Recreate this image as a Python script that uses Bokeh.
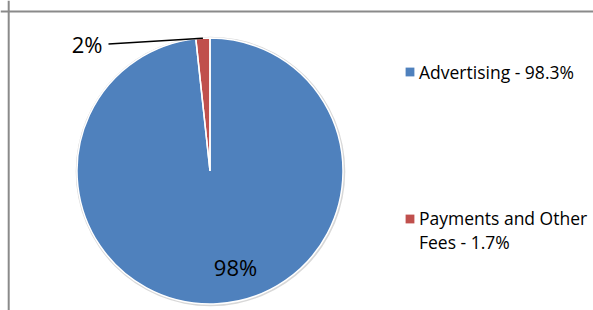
import math
from bokeh.plotting import figure
from bokeh.models import Range1d, ColumnDataSource, Legend, LegendItem, Span
from bokeh.core.properties import value
from bokeh.embed import file_html
from bokeh.resources import INLINE

# ---- data ----
categories = ["Advertising", "Payments and Other Fees"]
shares = [98.3, 1.7]
colors = ["#4F81BD", "#C0504D"]

FONT = "Open Sans"
W, H = 593, 310
cx, cy, R = 209.5, 139.5, 133.0

total = sum(shares)
starts, ends, mids = [], [], []
cum = 0.0
for s in shares:
    a0 = math.pi / 2 - 2 * math.pi * cum / total
    cum += s
    a1 = math.pi / 2 - 2 * math.pi * cum / total
    starts.append(a0)
    ends.append(a1)
    mids.append((a0 + a1) / 2)

src = ColumnDataSource(dict(
    x=[cx] * len(shares), y=[cy] * len(shares),
    start=starts, end=ends, color=colors,
))

p = figure(width=W, height=H, output_backend="svg", toolbar_location=None,
           x_range=Range1d(0, W), y_range=Range1d(0, H),
           x_axis_type=None, y_axis_type=None, min_border=0)
p.outline_line_color = None
p.background_fill_color = "white"
p.border_fill_color = "white"

# chart frame (left and top edges visible)
p.add_layout(Span(location=8.2, dimension="height", line_color="#8a8a8a", line_width=2))
p.add_layout(Span(location=H - 11, dimension="width", line_color="#8a8a8a", line_width=2))

# soft shadow
p.circle(x=[cx + 0.5], y=[cy - 0.5], radius=R + 1.8, fill_color="#c8c8c8",
         fill_alpha=0.7, line_color=None)

# pie slices (fill)
r_fill = p.wedge(x="x", y="y", radius=R, start_angle="start", end_angle="end",
                 direction="clock", fill_color="color", line_color=None, source=src)
# white borders
p.wedge(x="x", y="y", radius=R, start_angle="start", end_angle="end",
        direction="clock", fill_alpha=0, line_color="white", line_width=1.5, source=src)
# invisible renderer used for the wrapped second legend line
r_none = p.wedge(x="x", y="y", radius=R, start_angle="start", end_angle="end",
                 direction="clock", fill_alpha=0, line_alpha=0, source=src)

# data labels
lbl_small = f"{round(shares[1])}%"
lbl_big = f"{round(shares[0])}%"
ex, ey = cx + R * math.cos(mids[1]), cy + R * math.sin(mids[1])
lx, ly = cx - 101.5, cy + 127.0
p.line(x=[lx, ex], y=[ly, ey], line_color="black", line_width=1.5)
p.text(x=[lx - 6], y=[ly + 0.3], text=[lbl_small], text_align="right",
       text_baseline="alphabetic", text_font=value(FONT), text_font_size="22px",
       text_color="black")
p.text(x=[cx + 25.5], y=[cy - 96.2], text=[lbl_big], text_align="center",
       text_baseline="alphabetic", text_font=value(FONT), text_font_size="22px",
       text_color="black")

# legend
common = dict(orientation="vertical", padding=0, margin=0, spacing=0,
              border_line_color=None, background_fill_alpha=0,
              glyph_width=11, glyph_height=11, label_standoff=4,
              label_text_font=FONT, label_text_font_size="17.5px",
              label_text_color="black")
leg_a = Legend(items=[LegendItem(label=f"{categories[0]} - {shares[0]}%",
                                 renderers=[r_fill], index=0)],
               location=(404, 226.5), **common)
words = categories[1].rsplit(" ", 1)
leg_b = Legend(items=[LegendItem(label=words[0], renderers=[r_fill], index=1),
                      LegendItem(label=f"{words[1]} - {shares[1]}%",
                                 renderers=[r_none], index=1)],
               location=(404, 56), **common)
p.add_layout(leg_a)
p.add_layout(leg_b)

open("out.html", "w").write(file_html(p, INLINE))
